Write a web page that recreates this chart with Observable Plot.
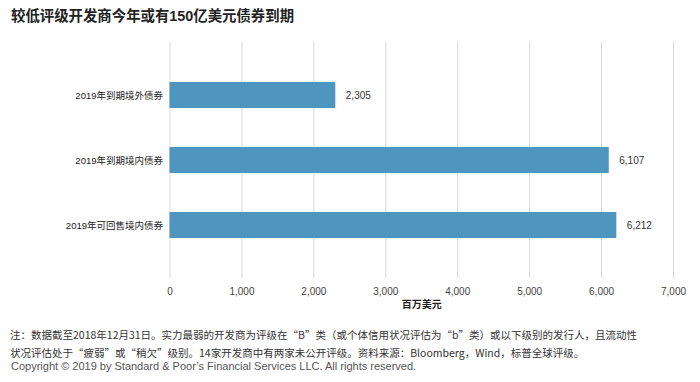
<!DOCTYPE html>
<html><head><meta charset="utf-8">
<script src="https://cdn.jsdelivr.net/npm/d3@7"></script>
<script src="https://cdn.jsdelivr.net/npm/@observablehq/plot@0.6"></script>
<style>
body{margin:0;background:#fff;font-family:"Liberation Sans","Noto Sans CJK SC",sans-serif;width:700px;height:382px;position:relative;overflow:hidden}
#title{position:absolute;left:11px;top:4px;font-size:14.4px;font-weight:bold;color:#222;font-family:"Liberation Sans","Noto Sans CJK SC",sans-serif}
#chart{position:absolute;left:0;top:30px}
#note{position:absolute;left:10px;top:326px;font-size:10.5px;color:#333;line-height:18px;font-family:"Noto Sans CJK SC","Liberation Sans",sans-serif}
#copy{position:absolute;left:11px;top:360px;font-size:11px;color:#555;font-family:"Liberation Sans Narrow","Liberation Sans",sans-serif}
</style></head>
<body>
<div id="title">较低评级开发商今年或有150亿美元债券到期</div>
<div id="chart"></div>
<div id="note">注：数据截至2018年12月31日。实力最弱的开发商为评级在“B”类（或个体信用状况评估为“b”类）或以下级别的发行人，且流动性<br>状况评估处于“疲弱”或“稍欠”级别。14家开发商中有两家未公开评级。资料来源：Bloomberg，Wind，标普全球评级。</div>
<div id="copy">Copyright © 2019 by Standard &amp; Poor’s Financial Services LLC. All rights reserved.</div>
<script>
const categories = ["2019年到期境外债券", "2019年到期境内债券", "2019年可回售境内债券"];
const values = [2305, 6107, 6212];
const xTicks = [0, 1000, 2000, 3000, 4000, 5000, 6000, 7000];
const xLabel = "百万美元";

const data = categories.map((c, i) => ({category: c, value: values[i]}));
const fmt = d3.format(",");

const chart = Plot.plot({
  width: 700,
  height: 290,
  marginLeft: 169.5,
  marginRight: 27,
  marginTop: 11.5,
  marginBottom: 42,
  style: {fontFamily: '"Liberation Sans","Noto Sans CJK SC",sans-serif', fontSize: "10px", color: "#333", background: "#fff"},
  x: {domain: [0, 7000], ticks: xTicks, tickFormat: fmt, label: null},
  y: {domain: categories, padding: 0.6, label: null},
  marks: [
    Plot.gridX(xTicks, {stroke: "#d9d9d9", strokeOpacity: 1}),
    Plot.barX(data, {y: "category", x: "value", fill: "#4e96c0"}),
    Plot.text(data, {y: "category", x: "value", text: d => fmt(d.value), textAnchor: "start", dx: 10, fill: "#333", fontSize: 10}),
    Plot.axisX({ticks: xTicks, tickFormat: fmt, tickSize: 0, tickPadding: 9, fill: "#444", fontSize: 10, label: null}),
    Plot.axisY({tickSize: 0, tickPadding: 7, fill: "#222", fontSize: 9.5, label: null}),
    Plot.text([xLabel], {frameAnchor: "bottom", dy: 29, text: d => d, fontWeight: "bold", fontSize: 10, fill: "#222", x: () => 3500})
  ]
});
document.getElementById("chart").appendChild(chart);
</script>
</body></html>
